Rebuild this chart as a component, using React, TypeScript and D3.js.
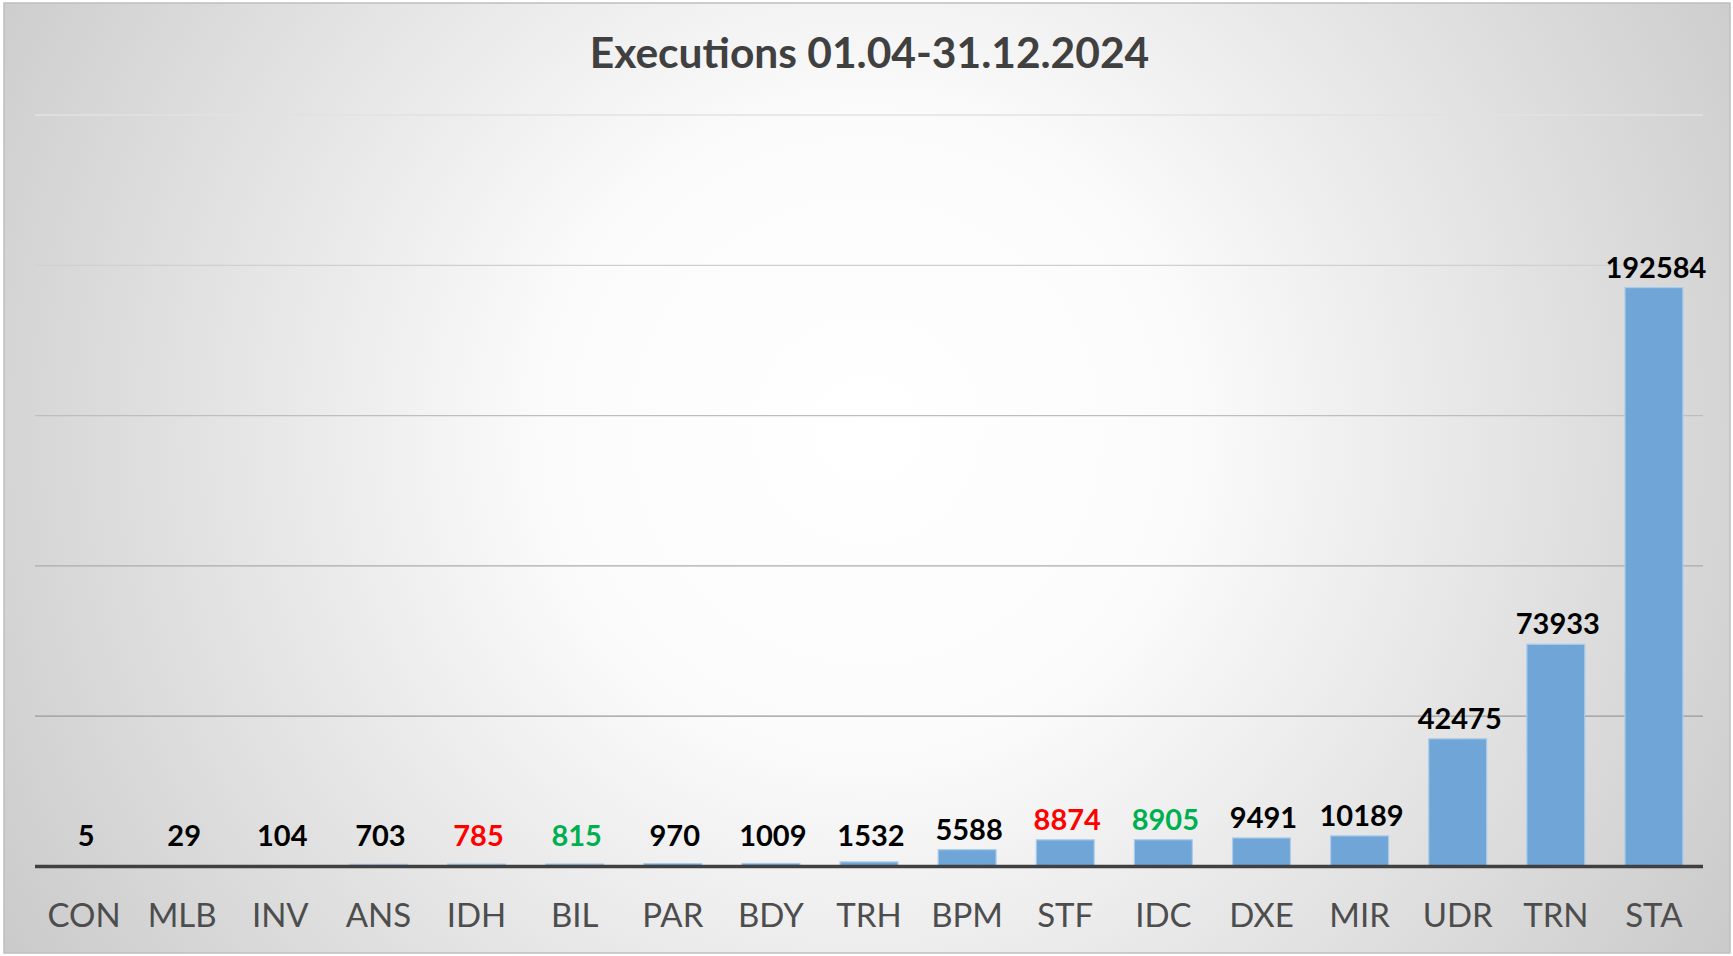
import React from "react";
import * as d3 from "d3";

const categories = ["CON","MLB","INV","ANS","IDH","BIL","PAR","BDY","TRH","BPM","STF","IDC","DXE","MIR","UDR","TRN","STA"];
const values = [5,29,104,703,785,815,970,1009,1532,5588,8874,8905,9491,10189,42475,73933,192584];
const labelColors = ["#000","#000","#000","#000","#FF0000","#00B050","#000","#000","#000","#000","#FF0000","#00B050","#000","#000","#000","#000","#000"];
const yTicks = [0,50000,100000,150000,200000,250000];
const title = "Executions 01.04-31.12.2024";

const W = 1733, H = 956;
const plot = { left: 35, right: 1703, top: 115, bottom: 866.5 };

export default function App() {
  const x = d3.scaleBand<string>().domain(categories).range([plot.left, plot.right]).paddingInner(0.41).paddingOuter(0.205);
  const y = d3.scaleLinear().domain([0, 250000]).range([plot.bottom, plot.top]);
  const gridColor = d3.scaleLinear<string>().domain([250000, 50000]).range(["#e2e2e2", "#9a9a9a"]);
  const font = "Lato, 'Noto Sans', sans-serif";
  return (
    <svg width={W} height={H} style={{ position: "absolute", left: 0, top: 0 }} fontFamily={font}>
      <defs>
        <radialGradient id="bg" cx="0.5" cy="0.45" r="0.62" gradientTransform="translate(0.5 0.45) scale(1 1.8) translate(-0.5 -0.45)">
          <stop offset="0" stopColor="#ffffff" />
          <stop offset="0.3" stopColor="#fbfbfb" />
          <stop offset="1" stopColor="#c6c6c6" />
        </radialGradient>
      </defs>
      <rect x={4} y={3} width={W - 7} height={H - 6} fill="url(#bg)" stroke="#bfbfbf" strokeWidth={1.5} />
      <text x={W / 2 + 3} y={68} textAnchor="middle" fontSize={42.5} fontWeight={700} fill="#404040">{title}</text>
      {yTicks.filter(t => t > 0).map(t => (
        <line key={t} x1={plot.left} x2={plot.right} y1={y(t)} y2={y(t)} stroke={gridColor(t)} strokeWidth={1.3} />
      ))}
      {categories.map((c, i) => (
        <rect key={c} x={x(c)!} width={x.bandwidth()} y={y(values[i])} height={plot.bottom - y(values[i])}
          fill="#6FA5D7" stroke="#A9CBEA" strokeWidth={1.2} />
      ))}
      <line x1={plot.left} x2={plot.right} y1={plot.bottom} y2={plot.bottom} stroke="#404040" strokeWidth={3.5} />
      {categories.map((c, i) => (
        <text key={c + "v"} x={x(c)! + x.bandwidth() / 2 + 2} y={Math.min(y(values[i]) - 10, plot.bottom - 21)}
          textAnchor="middle" fontSize={29} fontWeight={700} fill={labelColors[i]}>{values[i]}</text>
      ))}
      {categories.map(c => (
        <text key={c + "c"} x={x(c)! + x.bandwidth() / 2} y={926.5} textAnchor="middle" fontSize={33} fill="#4d4d4d">{c}</text>
      ))}
    </svg>
  );
}
